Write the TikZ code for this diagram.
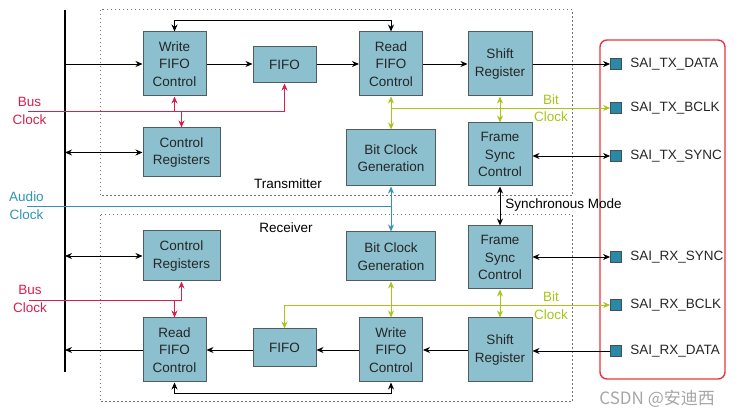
\documentclass[tikz,border=0pt]{standalone}
\usepackage{fontspec}
\setmainfont{Liberation Sans}
\newfontfamily\cjkfont{Noto Sans CJK SC}
\usetikzlibrary{arrows.meta}
\definecolor{blockfill}{RGB}{140,192,206}
\definecolor{blockline}{RGB}{80,92,98}
\definecolor{pinfill}{RGB}{40,138,168}
\definecolor{busred}{RGB}{214,32,78}
\definecolor{audioblue}{RGB}{46,148,184}
\definecolor{bitgreen}{RGB}{168,196,24}
\definecolor{boxred}{RGB}{232,52,60}
\begin{document}
\begin{tikzpicture}[x=1pt, y=-1pt, line width=0.9pt,
    >={Stealth[length=7pt,width=6pt]},
    txt/.style={font=\fontsize{13.5}{17.5}\selectfont},
    block/.style={txt, draw=blockline, fill=blockfill, line width=1pt, align=center, inner sep=0pt, text=black!85},
    pin/.style={draw=black!70, fill=pinfill, minimum size=11pt, inner sep=0pt, line width=0.8pt},
    pinlbl/.style={txt, anchor=west, inner sep=0pt, text=black!85},
    lbl/.style={txt, align=center, inner sep=0pt},
    region/.style={draw=black!55, dash pattern=on 1.5pt off 2.5pt, line width=1pt}]
\useasboundingbox ( 0, 0 ) rectangle ( 745, 419 );

% области
            \draw [region] ( 100, 10 ) rectangle ( 572, 196 );
            \draw [region] ( 100, 215 ) rectangle ( 572, 402 );
            \draw [draw=boxred, line width=1.4pt, rounded corners=7pt] ( 600, 40 ) rectangle ( 725, 379 );
            \node [lbl] (txlbl) at ( 288, 184 ) {Transmitter};
            \node [lbl] (rxlbl) at ( 286, 228 ) {Receiver};

% шина
            \coordinate (busTop) at ( 65, 10 );
            \coordinate (busBot) at ( 65, 372 );
            \draw [line width=2pt] (busTop) -- (busBot);

% передатчик
            \node [block, minimum width=63pt, minimum height=64pt] (wfcT) at ( 174.5, 64 ) {Write\\FIFO\\Control};
            \node [block, minimum width=63pt, minimum height=36pt] (fifoT) at ( 284.5, 65 ) {FIFO};
            \node [block, minimum width=63pt, minimum height=64pt] (rfcT) at ( 391, 64 ) {Read\\FIFO\\Control};
            \node [block, minimum width=64pt, minimum height=64pt] (srT) at ( 500, 64 ) {Shift\\Register};
            \node [block, minimum width=77pt, minimum height=49pt] (crT) at ( 181.5, 152.5 ) {Control\\Registers};
            \node [block, minimum width=89pt, minimum height=56pt] (bcgT) at ( 391, 158 ) {Bit Clock\\Generation};
            \node [block, minimum width=64pt, minimum height=63pt] (fscT) at ( 500, 154.5 ) {Frame\\Sync\\Control};

% приёмник
            \node [block, minimum width=77pt, minimum height=50pt] (crR) at ( 181.5, 256 ) {Control\\Registers};
            \node [block, minimum width=89pt, minimum height=49pt] (bcgR) at ( 391, 256.5 ) {Bit Clock\\Generation};
            \node [block, minimum width=64pt, minimum height=63pt] (fscR) at ( 500, 257.5 ) {Frame\\Sync\\Control};
            \node [block, minimum width=63pt, minimum height=64pt] (rfcR) at ( 174.5, 350 ) {Read\\FIFO\\Control};
            \node [block, minimum width=63pt, minimum height=38pt] (fifoR) at ( 284.5, 348 ) {FIFO};
            \node [block, minimum width=63pt, minimum height=64pt] (wfcR) at ( 391, 350 ) {Write\\FIFO\\Control};
            \node [block, minimum width=64pt, minimum height=64pt] (srR) at ( 500, 350 ) {Shift\\Register};

% выводы
            \node [pin] (pinTxD) at ( 616, 64 ) {};
            \node [pin] (pinTxB) at ( 616, 108 ) {};
            \node [pin] (pinTxS) at ( 616, 156 ) {};
            \node [pin] (pinRxS) at ( 616, 257 ) {};
            \node [pin] (pinRxB) at ( 616, 305 ) {};
            \node [pin] (pinRxD) at ( 616, 351 ) {};
            \node [pinlbl] (lblTxD) at ( 630, 64 ) {SAI\_TX\_DATA};
            \node [pinlbl] (lblTxB) at ( 630, 108 ) {SAI\_TX\_BCLK};
            \node [pinlbl] (lblTxS) at ( 630, 156 ) {SAI\_TX\_SYNC};
            \node [pinlbl] (lblRxS) at ( 630, 257 ) {SAI\_RX\_SYNC};
            \node [pinlbl] (lblRxB) at ( 630, 305 ) {SAI\_RX\_BCLK};
            \node [pinlbl] (lblRxD) at ( 630, 351 ) {SAI\_RX\_DATA};

% данные передатчика
            \draw [->] (busTop |- wfcT.west) -- (wfcT.west);
            \draw [<->] (busTop |- crT.west) -- (crT.west);
            \draw [->] (wfcT.east) -- (fifoT.west |- wfcT.east);
            \draw [->] (fifoT.east |- rfcT.west) -- (rfcT.west);
            \draw [->] (rfcT.east) -- (srT.west);
            \draw [->] (srT.east) -- (pinTxD.west);
            \draw [<->] (wfcT.north) -- ++( 0, -11 ) -| (rfcT.north);
            \draw [<->] (fscT.east |- pinTxS.west) -- (pinTxS.west);

% данные приёмника
            \draw [<->] (busTop |- crR.west) -- (crR.west);
            \draw [->] (rfcR.west) -- (busTop |- rfcR.west);
            \draw [->] (fifoR.west |- rfcR.east) -- (rfcR.east);
            \draw [->] (wfcR.west) -- (fifoR.east |- wfcR.west);
            \draw [->] (srR.west) -- (wfcR.east);
            \draw [->] (pinRxD.west) -- (srR.east |- pinRxD.west);
            \draw [<->] (rfcR.south) -- ++( 0, 11 ) -| (wfcR.south);
            \draw [<->] (fscR.east |- pinRxS.west) -- (pinRxS.west);
            \draw [<->] (fscT.south) -- (fscR.north);
            \node [txt, anchor=west, inner sep=0pt] (syncmode) at ( 505, 205 ) {Synchronous Mode};

% тактовая шины
            \node [lbl, text=busred] (busclkT) at ( 29.5, 111 ) {Bus\\Clock};
            \coordinate (busT) at ( 28, 111 );
            \draw [busred, ->] (busT) -| (fifoT.south);
            \draw [busred, ->] (wfcT.south |- busT) -- (wfcT.south);
            \draw [busred, ->] (crT.north |- busT) -- (crT.north);
            \node [lbl, text=busred] (busclkR) at ( 30, 299 ) {Bus\\Clock};
            \coordinate (busR) at ( 29, 300 );
            \draw [busred, ->] (busR) -| (crR.south);
            \draw [busred, ->] (rfcR.north |- busR) -- (rfcR.north);

% аудио такт
            \node [lbl, text=audioblue] (audioclk) at ( 26.5, 205.5 ) {Audio\\Clock};
            \coordinate (aclk) at ( 27, 206 );
            \draw [audioblue, ->] (aclk) -| (bcgT.south);
            \draw [audioblue, ->] (aclk -| bcgR.north) -- (bcgR.north);

% битовый такт
            \coordinate (bclkT) at ( 391, 108 );
            \draw [bitgreen, ->] (bclkT) -- (pinTxB.west);
            \draw [bitgreen, <->] (rfcT.south) -- (bcgT.north);
            \draw [bitgreen, <->] (srT.south) -- (fscT.north);
            \node [lbl, text=bitgreen] (bitclkT) at ( 551, 108 ) {Bit\\Clock};
            \draw [bitgreen, <->] (fifoR.north) |- (pinRxB.west);
            \draw [bitgreen, <->] (bcgR.south) -- (wfcR.north);
            \draw [bitgreen, <->] (fscR.south) -- (srR.north);
            \node [lbl, text=bitgreen] (bitclkR) at ( 551, 305.5 ) {Bit\\Clock};

            \node [anchor=west, inner sep=0pt, text=black!35, font=\cjkfont\fontsize{17}{20}\selectfont] (mark) at ( 599, 399 ) {CSDN @安迪西};
        \end{tikzpicture}
\end{document}
